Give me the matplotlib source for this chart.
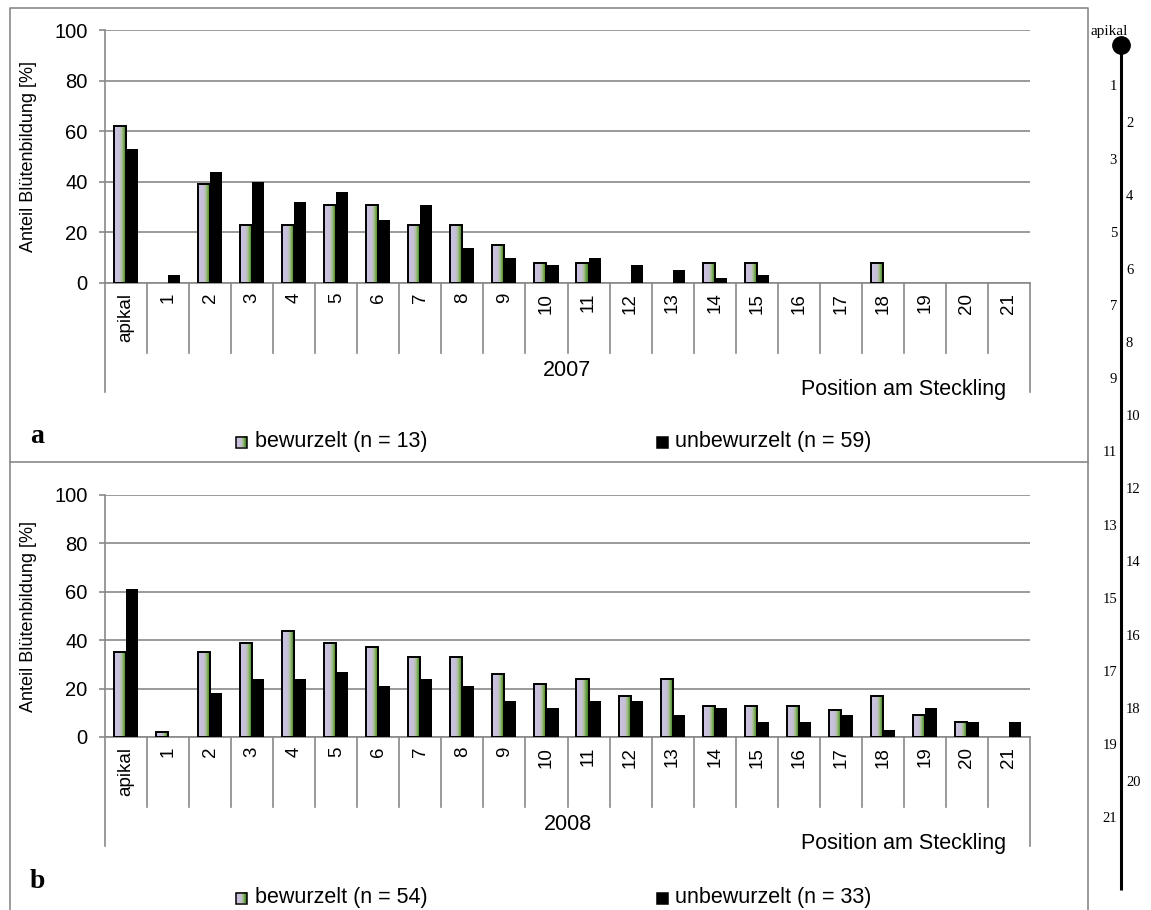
import numpy as np
import matplotlib
matplotlib.use("Agg")
import matplotlib.pyplot as plt
from matplotlib.colors import LinearSegmentedColormap
from matplotlib.patches import Rectangle

plt.rcParams['font.family'] = ['Liberation Sans', 'DejaVu Sans']

# ---- data -------------------------------------------------------------
positions = ['apikal'] + [str(i) for i in range(1, 22)]

bewurzelt_2007 = [62, 0, 39, 23, 23, 31, 31, 23, 23, 15, 8, 8, 0, 0, 8, 8, 0, 0, 8, 0, 0, 0]
unbewurzelt_2007 = [53, 3, 44, 40, 32, 36, 25, 31, 14, 10, 7, 10, 7, 5, 2, 3, 0, 0, 0, 0, 0, 0]

bewurzelt_2008 = [35, 2, 35, 39, 44, 39, 37, 33, 33, 26, 22, 24, 17, 24, 13, 13, 13, 11, 17, 9, 6, 0]
unbewurzelt_2008 = [61, 0, 18, 24, 24, 27, 21, 24, 21, 15, 12, 15, 15, 9, 12, 6, 6, 9, 3, 12, 6, 6]

years = ['2007', '2008']
panel_letters = ['a', 'b']
legend_2007 = ['bewurzelt (n = 13)', 'unbewurzelt (n = 59)']
legend_2008 = ['bewurzelt (n = 54)', 'unbewurzelt (n = 33)']
y_ticks = [0, 20, 40, 60, 80, 100]

# ---- style ------------------------------------------------------------
W, H = 1151, 910
GREY = '#898989'
FS_TEXT = 15.5     # horizontal texts (legend, year, axis title)
FS_YTICK = 14.5
FS_XTICK = 13.5
FS_YLABEL = 13
grad_cmap = LinearSegmentedColormap.from_list(
    'bew', [(0.0, '#cdc4e2'), (0.45, '#c6bfd8'), (0.62, '#a9c28f'),
            (0.82, '#5c9b3c'), (1.0, '#3b7624')])
grad = np.linspace(0, 1, 64).reshape(1, -1)

fig = plt.figure(figsize=(W / 100, H / 100), dpi=100)

# full-figure canvas in pixel coordinates for frames and annotations
canvas = fig.add_axes([0, 0, 1, 1])
canvas.set_xlim(0, W)
canvas.set_ylim(H, 0)
canvas.axis('off')

# panel frames
canvas.plot([10, 10, 1088, 1088, 10], [H + 5, 8, 8, H + 5, H + 5], color=GREY, lw=1.2)
canvas.plot([10, 1088], [462, 462], color=GREY, lw=1.2)

AX_LEFT, AX_RIGHT = 105, 1030
bar_w = 0.286
x = np.arange(len(positions))


def draw_panel(top, bottom, bew, unbew, year, letter, legend_labels, legend_y, letter_y):
    h_px = bottom - top
    ax = fig.add_axes([AX_LEFT / W, 1 - bottom / H, (AX_RIGHT - AX_LEFT) / W, h_px / H])
    ax.set_facecolor('none')

    # gradient bars (bewurzelt)
    for xi, v in zip(x, bew):
        if v > 0:
            ax.imshow(grad, extent=[xi - bar_w, xi, 0, v], aspect='auto', cmap=grad_cmap,
                      interpolation='bilinear', zorder=2)
    bx = [xi - bar_w / 2 for xi, v in zip(x, bew) if v > 0]
    bv = [v for v in bew if v > 0]
    ax.bar(bx, bv, bar_w, facecolor='none', edgecolor='black', lw=1.4, zorder=3)

    # solid black bars (unbewurzelt)
    ux = [xi + bar_w / 2 for xi, v in zip(x, unbew) if v > 0]
    uv = [v for v in unbew if v > 0]
    ax.bar(ux, uv, bar_w, color='black', lw=0, zorder=3)

    ax.set_xlim(-0.5, len(positions) - 0.5)
    ax.set_ylim(0, 100)
    ax.set_yticks(y_ticks)
    ax.yaxis.grid(True, color=GREY, lw=1.2)
    ax.set_axisbelow(True)
    for s in ('top', 'right'):
        ax.spines[s].set_visible(False)
    for s in ('left', 'bottom'):
        ax.spines[s].set_color(GREY)
        ax.spines[s].set_linewidth(1.2)
    ax.tick_params(axis='y', length=4.5, width=1.2, color=GREY, labelsize=FS_YTICK, pad=8)
    ax.set_xticks(x)
    ax.set_xticklabels(positions, rotation=90, fontsize=FS_XTICK)
    ax.tick_params(axis='x', length=0, pad=7)

    # category table below the axis
    tr = ax.get_xaxis_transform()
    for b in np.arange(-0.5, len(positions), 1.0):
        depth = 109 if b in (-0.5, len(positions) - 0.5) else 70
        ax.plot([b, b], [0, -depth / h_px], transform=tr, color=GREY, lw=1.2,
                clip_on=False, zorder=1)
    ax.text(0.5, -87 / h_px, year, transform=ax.transAxes, ha='center', va='center',
            fontsize=FS_TEXT)
    ax.text((1006 - AX_LEFT) / (AX_RIGHT - AX_LEFT), -106 / h_px, 'Position am Steckling',
            transform=ax.transAxes, ha='right', va='center', fontsize=FS_TEXT)

    # y label
    canvas.text(29, (top + bottom) / 2, 'Anteil Blütenbildung [%]', rotation=90,
                ha='center', va='center', fontsize=FS_YLABEL)

    # panel letter
    canvas.text(30, letter_y, letter, fontsize=20, fontweight='bold',
                family=['Liberation Serif', 'DejaVu Serif'], ha='left', va='baseline')

    # legend
    sq = 11
    canvas.imshow(grad, extent=[236, 236 + sq, legend_y + sq / 2, legend_y - sq / 2],
                  aspect='auto', cmap=grad_cmap, interpolation='bilinear', zorder=2)
    canvas.add_patch(Rectangle((236, legend_y - sq / 2), sq, sq, facecolor='none',
                               edgecolor='black', lw=1.1, zorder=3))
    canvas.text(255, legend_y, legend_labels[0], ha='left', va='center', fontsize=FS_TEXT)
    canvas.add_patch(Rectangle((657, legend_y - sq / 2), sq, sq, facecolor='black',
                               edgecolor='black', lw=1.1, zorder=3))
    canvas.text(675, legend_y, legend_labels[1], ha='left', va='center', fontsize=FS_TEXT)


draw_panel(30, 283, bewurzelt_2007, unbewurzelt_2007, years[0], panel_letters[0],
           legend_2007, 442, 443)
draw_panel(495, 737, bewurzelt_2008, unbewurzelt_2008, years[1], panel_letters[1],
           legend_2008, 898, 888)

# cutting sketch: stem with node positions
STEM_X = 1121
canvas.plot([STEM_X, STEM_X], [45, 890], color='black', lw=2.2, solid_capstyle='butt')
canvas.plot(STEM_X, 45, 'o', ms=12.5, color='black')
serif = ['Liberation Serif', 'DejaVu Serif']
canvas.text(STEM_X - 12, 32, 'apikal', ha='center', va='center', fontsize=11, family=serif)
for k in range(1, 22):
    yk = 87 + (k - 1) * 36.6
    if k % 2:
        canvas.text(STEM_X - 4, yk, str(k), ha='right', va='center', fontsize=10.5, family=serif)
    else:
        canvas.text(STEM_X + 5, yk, str(k), ha='left', va='center', fontsize=10.5, family=serif)

canvas.set_xlim(0, W)
canvas.set_ylim(H, 0)

fig.savefig('out.png', dpi=100)
